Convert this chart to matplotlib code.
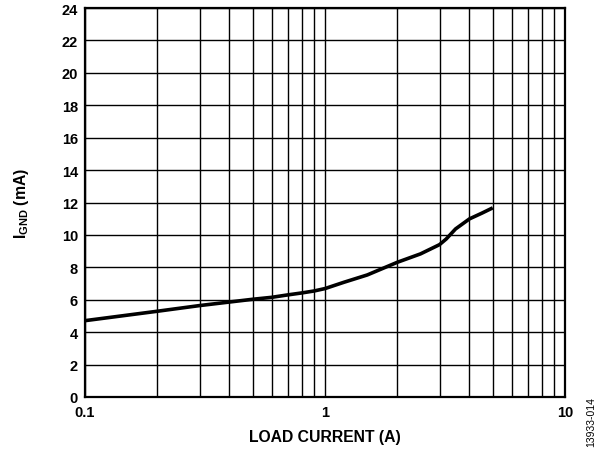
import matplotlib
matplotlib.use("Agg")
import matplotlib.pyplot as plt
from matplotlib.ticker import FixedLocator, NullFormatter

# load current (A) vs ground current (mA)
load_a = [0.1, 0.2, 0.3, 0.4, 0.5, 0.6, 0.7, 0.8, 0.9, 1.0, 1.2, 1.5,
          2.0, 2.5, 3.0, 3.2, 3.5, 4.0, 4.5, 5.0]
ignd_ma = [4.71, 5.29, 5.64, 5.86, 6.03, 6.15, 6.30, 6.42, 6.54, 6.69, 7.08, 7.53,
           8.31, 8.83, 9.40, 9.75, 10.37, 10.99, 11.34, 11.67]

yticks = list(range(0, 26, 2))
xticks = [0.1, 1, 10]
xtick_labels = ["0.1", "1", "10"]

plt.rcParams["font.family"] = "Liberation Sans"
plt.rcParams["mathtext.fontset"] = "custom"
plt.rcParams["mathtext.rm"] = "Liberation Sans:bold"
plt.rcParams["mathtext.bf"] = "Liberation Sans:bold"

fig = plt.figure(figsize=(5.97, 4.52), dpi=100)
ax = fig.add_axes([85 / 597, 54 / 452, 480 / 597, 389 / 452])

ax.plot(load_a, ignd_ma, color="black", lw=2.6, solid_joinstyle="round",
        solid_capstyle="butt", zorder=3)

ax.set_xscale("log")
ax.set_xlim(0.1, 10)
ax.set_ylim(0, 24)
ax.set_xticks(xticks)
ax.set_xticklabels(xtick_labels)
minor = [m * d for d in (0.1, 1) for m in range(2, 10)]
ax.xaxis.set_minor_locator(FixedLocator(minor))
ax.xaxis.set_minor_formatter(NullFormatter())
ax.set_yticks(yticks)

ax.grid(True, which="both", color="black", lw=1.0)
ax.tick_params(which="both", length=0, labelsize=10.5)
ax.tick_params(axis="x", pad=6)
ax.tick_params(axis="y", pad=5)
for lab in ax.get_xticklabels() + ax.get_yticklabels():
    lab.set_fontweight("bold")

for s in ax.spines.values():
    s.set_linewidth(1.6)

ax.set_xlabel("LOAD CURRENT (A)", fontsize=11.3, fontweight="bold", labelpad=7)
ax.set_ylabel(r"I$_{\mathrm{GND}}$ (mA)", fontsize=11.3, fontweight="bold", labelpad=22)

fig.text(591 / 597, 1 - 422 / 452, "13933-014", rotation=90, fontsize=7.5,
         ha="center", va="center")

fig.savefig("out.png", dpi=100)
